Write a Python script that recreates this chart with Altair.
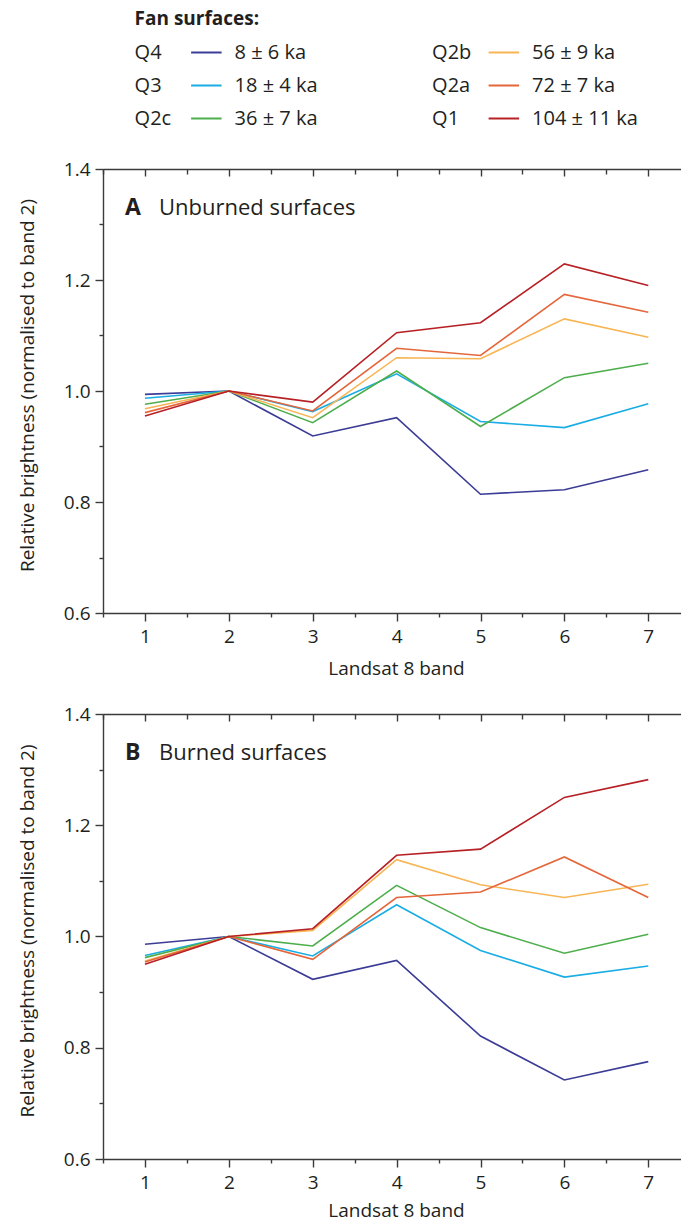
import altair as alt
import pandas as pd

# ---------------- data ----------------
bands = [1, 2, 3, 4, 5, 6, 7]
surfaces = ["Q4", "Q3", "Q2c", "Q2b", "Q2a", "Q1"]
ages = ["8 ± 6 ka", "18 ± 4 ka", "36 ± 7 ka", "56 ± 9 ka", "72 ± 7 ka", "104 ± 11 ka"]
colors = ["#3B3C96", "#1AADE4", "#4DAE4C", "#F8B554", "#E4663A", "#B72025"]

# Panel A: unburned surfaces
unburned_q4 = [0.994, 1.000, 0.919, 0.952, 0.814, 0.822, 0.858]
unburned_q3 = [0.987, 1.000, 0.963, 1.031, 0.945, 0.934, 0.977]
unburned_q2c = [0.976, 1.000, 0.943, 1.036, 0.936, 1.024, 1.050]
unburned_q2b = [0.968, 1.000, 0.952, 1.060, 1.058, 1.130, 1.097]
unburned_q2a = [0.961, 1.000, 0.964, 1.077, 1.064, 1.174, 1.142]
unburned_q1 = [0.955, 1.000, 0.980, 1.105, 1.123, 1.229, 1.190]

# Panel B: burned surfaces
burned_q4 = [0.986, 1.000, 0.923, 0.957, 0.821, 0.742, 0.775]
burned_q3 = [0.966, 1.000, 0.965, 1.057, 0.975, 0.927, 0.947]
burned_q2c = [0.962, 1.000, 0.983, 1.092, 1.016, 0.970, 1.004]
burned_q2b = [0.956, 1.000, 1.011, 1.138, 1.093, 1.070, 1.094]
burned_q2a = [0.954, 1.000, 0.959, 1.070, 1.080, 1.143, 1.070]
burned_q1 = [0.950, 1.000, 1.014, 1.146, 1.157, 1.250, 1.282]

x_ticks = [0.5, 1, 1.5, 2, 2.5, 3, 3.5, 4, 4.5, 5, 5.5, 6, 6.5, 7]
y_ticks = [0.6, 0.7, 0.8, 0.9, 1.0, 1.1, 1.2, 1.3, 1.4]

# ---------------- style ----------------
FONT = "Open Sans"
TXT = "#231F20"
AX = "#3a3a3a"
W = 578
X_DOMAIN = [0.5, 7.39]
Y_DOMAIN = [0.6, 1.4]

color_scale = alt.Scale(domain=surfaces, range=colors)
x_scale = alt.Scale(domain=X_DOMAIN, nice=False, zero=False)
y_scale = alt.Scale(domain=Y_DOMAIN, nice=False, zero=False)

MINOR_X = "datum.value % 1 != 0"
MINOR_Y = "round(datum.value * 10) % 2 == 1"


def long_df(series):
    recs = []
    for s, vals in zip(surfaces, series):
        for b, v in zip(bands, vals):
            recs.append({"surface": s, "band": b, "value": v})
    return pd.DataFrame(recs)


def make_panel(series, letter, title, h, x_title_y, legend=False):
    df = long_df(series)

    x_axis = alt.Axis(
        orient="bottom", values=x_ticks, title="Landsat 8 band",
        labelExpr="datum.value % 1 == 0 ? format(datum.value, '.0f') : ''",
        domainColor=AX, domainWidth=1.4, tickColor=AX, tickWidth=1.4,
        tickSize={"condition": {"test": MINOR_X, "value": 4}, "value": 8},
        labelPadding=6, labelFont=FONT, labelFontSize=19, labelColor=TXT,
        labelOverlap=False,
        titleFont=FONT, titleFontSize=19, titleFontWeight="normal", titleColor=TXT,
        titleX=293, titleY=x_title_y, titleBaseline="middle", grid=False,
    )
    top_axis = alt.Axis(
        orient="bottom", offset=-h, values=x_ticks, labels=False, title=None,
        domainColor=AX, domainWidth=1.4, tickColor=AX, tickWidth=1.4,
        tickSize={"condition": {"test": MINOR_X, "value": 5}, "value": 7},
        grid=False,
    )
    y_axis = alt.Axis(
        orient="left", values=y_ticks, format=".1f",
        labelExpr="round(datum.value * 10) % 2 == 0 ? datum.label : ''",
        title="Relative brightness (normalised to band 2)",
        domainColor=AX, domainWidth=1.4, tickColor=AX, tickWidth=1.4,
        tickSize={"condition": {"test": MINOR_Y, "value": 4}, "value": 8},
        labelPadding=5, labelFont=FONT, labelFontSize=19, labelColor=TXT,
        labelOverlap=False,
        titleFont=FONT, titleFontSize=19, titleFontWeight="normal", titleColor=TXT,
        titleX=-76, titleY=h / 2 - 6, titleAngle=270, titleBaseline="middle",
        titleAlign="center", grid=False,
    )

    lines = alt.Chart(df).mark_line(strokeWidth=1.6).encode(
        x=alt.X("band:Q", scale=x_scale, axis=x_axis),
        y=alt.Y("value:Q", scale=y_scale, axis=y_axis),
        color=alt.Color("surface:N", scale=color_scale, legend=None),
    )
    top = alt.Chart(df).mark_point(opacity=0).encode(
        x=alt.X("band:Q", scale=x_scale, axis=top_axis),
    )
    lab_df = pd.DataFrame({"letter": [letter], "title": [title]})
    let_txt = alt.Chart(lab_df).mark_text(
        font=FONT, fontSize=23, fontWeight="bold", color=TXT, align="left", baseline="middle"
    ).encode(x=alt.value(22), y=alt.value(39), text="letter:N")
    ttl_txt = alt.Chart(lab_df).mark_text(
        font=FONT, fontSize=22, color=TXT, align="left", baseline="middle"
    ).encode(x=alt.value(56), y=alt.value(39), text="title:N")

    layers = [lines, top, let_txt, ttl_txt]

    if legend:
        rows = []
        for i, (s, a) in enumerate(zip(surfaces, ages)):
            col, row = divmod(i, 3)
            x0 = 31.6 + col * 297.5
            rows.append({
                "surface": s, "age": a,
                "cx": x0, "lx1": x0 + 56.5, "lx2": x0 + 87, "tx": x0 + 100,
                "ly": -116.5 + row * 33,
            })
        leg = pd.DataFrame(rows)
        leg_code = alt.Chart(leg).mark_text(
            font=FONT, fontSize=20, color=TXT, align="left", baseline="middle"
        ).encode(x=alt.X("cx:Q", scale=None), y=alt.Y("ly:Q", scale=None), text="surface:N")
        leg_line = alt.Chart(leg).mark_rule(strokeWidth=2).encode(
            x=alt.X("lx1:Q", scale=None), x2="lx2:Q", y=alt.Y("ly:Q", scale=None),
            color=alt.Color("surface:N", scale=color_scale, legend=None),
        )
        leg_age = alt.Chart(leg).mark_text(
            font=FONT, fontSize=20, color=TXT, align="left", baseline="middle"
        ).encode(x=alt.X("tx:Q", scale=None), y=alt.Y("ly:Q", scale=None), text="age:N")
        head = alt.Chart(pd.DataFrame({"t": ["Fan surfaces:"]})).mark_text(
            font=FONT, fontSize=19, fontWeight="bold", color=TXT, align="left", baseline="middle"
        ).encode(x=alt.value(31.6), y=alt.value(-150), text="t:N")
        layers += [leg_code, leg_line, leg_age, head]

    return alt.layer(*layers).resolve_axis(x="independent").properties(width=W, height=h)


panel_a = make_panel(
    [unburned_q4, unburned_q3, unburned_q2c, unburned_q2b, unburned_q2a, unburned_q1],
    "A", "Unburned surfaces", 444, 55, legend=True,
)
panel_b = make_panel(
    [burned_q4, burned_q3, burned_q2c, burned_q2b, burned_q2a, burned_q1],
    "B", "Burned surfaces", 445, 51,
)

chart = alt.vconcat(panel_a, panel_b, spacing=101, bounds="flush").properties(
    padding={"left": 17, "top": 10, "right": 0, "bottom": 2},
    background="white",
).configure_view(stroke=None)

chart.save("out.html", embed_options={"renderer": "svg", "actions": False})
